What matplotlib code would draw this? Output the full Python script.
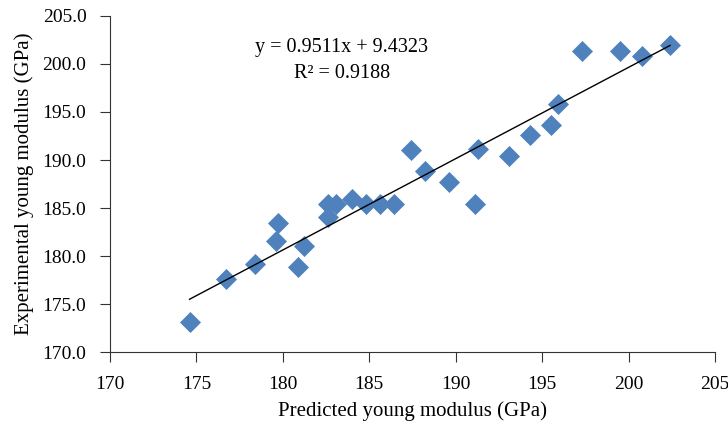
import matplotlib.pyplot as plt
import numpy as np

plt.rcParams['font.family'] = ['Liberation Serif', 'DejaVu Serif']

# predicted vs experimental young modulus (GPa)
predicted = [174.6, 176.7, 178.4, 179.7, 179.6, 181.2, 180.9, 182.6, 182.6, 183.1,
             184.0, 184.8, 185.6, 186.4, 187.4, 188.2, 189.6, 191.3, 191.1, 193.1,
             194.3, 195.5, 195.9, 197.3, 199.5, 200.8, 202.4]
experimental = [173.1, 177.6, 179.2, 183.4, 181.6, 181.0, 178.9, 185.4, 184.1, 185.4,
                185.9, 185.4, 185.4, 185.4, 191.0, 188.9, 187.7, 191.1, 185.4, 190.4,
                192.6, 193.6, 195.8, 201.4, 201.4, 200.8, 202.0]
slope = 0.9511
intercept = 9.4323
r2 = 0.9188

fig = plt.figure(figsize=(7.28, 4.23), dpi=100)
ax = fig.add_axes([0.1511, 0.1678, 0.8311, 0.7944])

ax.scatter(predicted, experimental, marker='D', s=115, color='#4F81BD', zorder=3, linewidths=0)

xs = np.array([min(predicted), max(predicted)])
ax.plot(xs, slope * xs + intercept, color='black', lw=1.0, zorder=4)

ax.text(0.383, 0.905, f'y = {slope}x + {intercept}', transform=ax.transAxes,
        ha='center', va='center', fontsize=14.5)
ax.text(0.383, 0.830, f'R² = {r2}', transform=ax.transAxes,
        ha='center', va='center', fontsize=14.5)

ax.set_xlim(170, 205)
ax.set_ylim(170, 205)
ax.set_xticks(np.arange(170, 206, 5))
ax.set_yticks(np.arange(170, 206, 5))
ax.set_yticklabels([f'{v:.1f}' for v in np.arange(170, 206, 5)])

for side in ['top', 'right']:
    ax.spines[side].set_visible(False)
for side in ['left', 'bottom']:
    ax.spines[side].set_color('#333333')
ax.tick_params(direction='out', length=7, color='#333333', labelsize=14, pad=10)

ax.set_xlabel('Predicted young modulus (GPa)', fontsize=15, labelpad=6)
ax.set_ylabel('Experimental young modulus (GPa)', fontsize=15, labelpad=6)

fig.savefig('out.png', dpi=100)
